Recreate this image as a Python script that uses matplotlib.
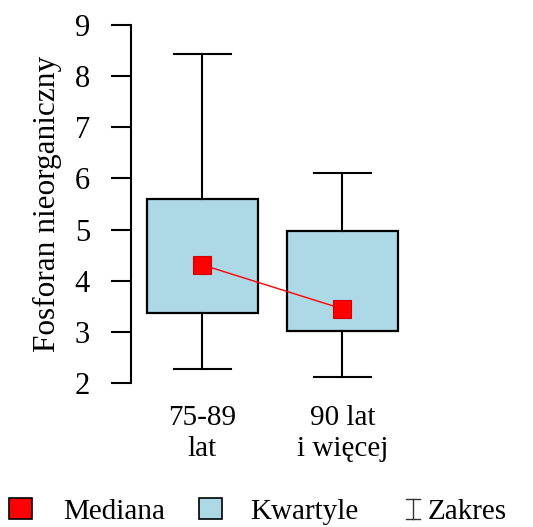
import matplotlib
matplotlib.use("Agg")
import matplotlib.pyplot as plt
from matplotlib.patches import Rectangle
from matplotlib.lines import Line2D

plt.rcParams['font.family'] = ['Liberation Serif', 'DejaVu Serif']

# dane
grupy = ["75-89\nlat", "90 lat\ni więcej"]
minimum = [2.27, 2.11]
q1 = [3.37, 3.02]
mediana = [4.31, 3.45]
q3 = [5.60, 4.98]
maksimum = [8.43, 6.11]

niebieski = "#ADD8E6"
czerwony = "#FF0000"

fig = plt.figure(figsize=(5.33, 5.27), dpi=100)
ax = fig.add_axes([0.2458, 0.2732, 0.528, 0.6794])

stats = []
for i in range(len(grupy)):
    stats.append(dict(whislo=minimum[i], q1=q1[i], med=mediana[i],
                      q3=q3[i], whishi=maksimum[i], fliers=[]))

pos = list(range(1, len(grupy) + 1))
ax.bxp(stats, positions=pos, widths=0.79, capwidths=0.41,
       patch_artist=True, showfliers=False,
       boxprops=dict(facecolor=niebieski, edgecolor="black", linewidth=1.6),
       whiskerprops=dict(color="black", linewidth=1.5),
       capprops=dict(color="black", linewidth=1.5),
       medianprops=dict(linewidth=0))

ax.plot(pos, mediana, color=czerwony, linewidth=1.0, zorder=4)
ax.plot(pos, mediana, linestyle="none", marker="s", markersize=13,
        markerfacecolor=czerwony, markeredgecolor="#d00000",
        markeredgewidth=0.8, zorder=5)

ax.set_xlim(0.49, 2.5)
ax.set_ylim(2, 9)
ax.set_yticks(range(2, 10))
ax.set_xticks(pos)
ax.set_xticklabels(grupy, fontsize=21, linespacing=1.25)
ax.tick_params(axis="y", labelsize=22, length=14.5, width=1.5, pad=15)
ax.tick_params(axis="x", length=0, pad=16)

for s in ["top", "right", "bottom"]:
    ax.spines[s].set_visible(False)
ax.spines["left"].set_linewidth(1.5)

ax.set_ylabel("Fosforan nieorganiczny", fontsize=22.5)
ax.yaxis.set_label_coords(-0.245, 0.5)

# legenda na dole
W, H = 533, 527
def px(x, y):
    return x / W, (H - y) / H

base = 519
fig.add_artist(Rectangle(px(9, base), 23 / W, 21 / H, transform=fig.transFigure,
                         facecolor=czerwony, edgecolor="black", linewidth=1.2))
fig.text(*px(63, base), "Mediana", fontsize=21, va="baseline", ha="left")
fig.add_artist(Rectangle(px(199, base), 23 / W, 21 / H, transform=fig.transFigure,
                         facecolor=niebieski, edgecolor="black", linewidth=1.2))
fig.text(*px(250, base), "Kwartyle", fontsize=21, va="baseline", ha="left")
for xs, ys in [([413, 413], [base - 20, base]), ([406, 420], [base - 20, base - 20]),
               ([406, 420], [base, base])]:
    x0, y0 = px(xs[0], ys[0])
    x1, y1 = px(xs[1], ys[1])
    fig.add_artist(Line2D([x0, x1], [y0, y1], transform=fig.transFigure,
                          color="#333333", linewidth=1.0))
fig.text(*px(428, base), "Zakres", fontsize=21, va="baseline", ha="left")

fig.savefig("out.png", dpi=100)
